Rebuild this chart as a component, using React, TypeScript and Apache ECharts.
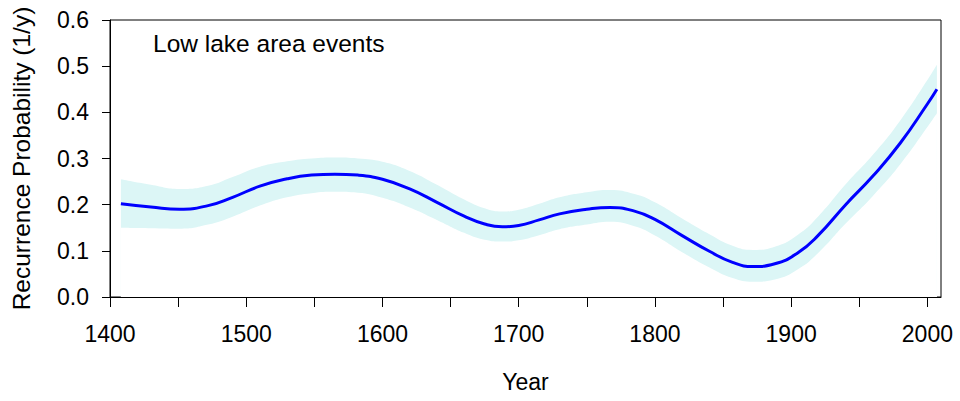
import React, { useEffect, useRef } from "react";
import * as echarts from "echarts";

const years = [1408, 1430, 1451, 1472, 1490, 1510, 1530, 1548, 1565, 1582, 1600, 1620, 1640, 1660, 1675, 1688, 1700, 1715, 1730, 1750, 1767, 1785, 1800, 1820, 1840, 1857, 1872, 1888, 1905, 1920, 1940, 1960, 1980, 2000, 2007];
const meanProb = [0.202, 0.195, 0.190, 0.198, 0.216, 0.240, 0.256, 0.264, 0.266, 0.264, 0.255, 0.234, 0.205, 0.175, 0.158, 0.152, 0.155, 0.167, 0.180, 0.190, 0.194, 0.186, 0.168, 0.133, 0.099, 0.075, 0.066, 0.072, 0.096, 0.134, 0.200, 0.262, 0.333, 0.418, 0.450];
const lowerProb = [0.150, 0.149, 0.148, 0.157, 0.174, 0.198, 0.216, 0.225, 0.228, 0.226, 0.215, 0.194, 0.167, 0.139, 0.124, 0.120, 0.123, 0.134, 0.147, 0.157, 0.163, 0.153, 0.133, 0.097, 0.064, 0.041, 0.033, 0.038, 0.060, 0.096, 0.159, 0.219, 0.287, 0.368, 0.398];
const upperProb = [0.255, 0.243, 0.234, 0.241, 0.260, 0.282, 0.294, 0.300, 0.302, 0.300, 0.293, 0.273, 0.243, 0.211, 0.192, 0.185, 0.189, 0.202, 0.216, 0.227, 0.232, 0.223, 0.205, 0.170, 0.136, 0.111, 0.102, 0.109, 0.135, 0.175, 0.244, 0.308, 0.382, 0.470, 0.503];
const xTicks = [1400, 1450, 1500, 1550, 1600, 1650, 1700, 1750, 1800, 1850, 1900, 1950, 2000];
const xLabels = [1400, 1500, 1600, 1700, 1800, 1900, 2000];

const FONT = "'Liberation Sans', Arial, sans-serif";

export default function App() {
  const ref = useRef<HTMLDivElement>(null);
  useEffect(() => {
    document.body.style.margin = "0";
    if (!ref.current) return;
    const chart = echarts.init(ref.current, null, { renderer: "svg" });
    const lower = years.map((y, i) => [y, lowerProb[i]]);
    const upper = years.map((y, i) => [y, upperProb[i]]);
    const mean = years.map((y, i) => [y, meanProb[i]]);
    chart.setOption({
      animation: false,
      textStyle: { fontFamily: FONT },
      grid: {
        left: 110,
        right: 19,
        top: 20,
        bottom: 104,
        outerBoundsMode: "none",
        containLabel: false,
        show: true,
        borderColor: "#000",
        borderWidth: 1,
        backgroundColor: "transparent",
      },
      xAxis: {
        type: "value",
        min: 1400,
        max: 2010,
        interval: 50,
        z: 10,
        name: "Year",
        nameLocation: "middle",
        nameGap: 73,
        nameTextStyle: { fontSize: 23, color: "#000", fontFamily: FONT },
        axisLine: { show: true, lineStyle: { color: "#000", width: 1 } },
        axisTick: { show: true, length: 10, lineStyle: { color: "#000" }, customValues: xTicks },
        axisLabel: {
          fontSize: 23,
          color: "#000",
          margin: 25,
          fontFamily: FONT,
          customValues: xLabels,
          formatter: (v: number) => String(v),
        },
        splitLine: { show: false },
      },
      yAxis: {
        type: "value",
        min: 0,
        max: 0.6,
        interval: 0.1,
        z: 10,
        name: "Recurrence Probability (1/y)",
        nameLocation: "middle",
        nameGap: 76,
        nameTextStyle: { fontSize: 24.5, color: "#000", fontFamily: FONT },
        axisLine: { show: true, lineStyle: { color: "#000", width: 1 } },
        axisTick: { show: true, length: 8, lineStyle: { color: "#000" } },
        axisLabel: {
          fontSize: 23,
          color: "#000",
          margin: 21,
          fontFamily: FONT,
          formatter: (v: number) => v.toFixed(1),
        },
        splitLine: { show: false },
      },
      series: [
        {
          type: "line",
          data: upper,
          smooth: true,
          symbol: "none",
          lineStyle: { width: 0, opacity: 0 },
          areaStyle: { color: "#dcf6f6", opacity: 1, origin: "start" },
          silent: true,
          z: 1,
        },
        {
          type: "line",
          data: lower,
          smooth: true,
          symbol: "none",
          lineStyle: { width: 0, opacity: 0 },
          areaStyle: { color: "#ffffff", opacity: 1, origin: "start" },
          silent: true,
          z: 2,
        },
        {
          type: "line",
          data: mean,
          smooth: true,
          symbol: "none",
          lineStyle: { color: "#0000ff", width: 3 },
          z: 3,
        },
      ],
      graphic: [
        {
          type: "text",
          left: 153,
          top: 31,
          style: { text: "Low lake area events", fontSize: 24.5, fill: "#000", fontFamily: FONT },
        },
      ],
    });
    return () => chart.dispose();
  }, []);
  return <div ref={ref} style={{ width: 960, height: 401 }} />;
}
